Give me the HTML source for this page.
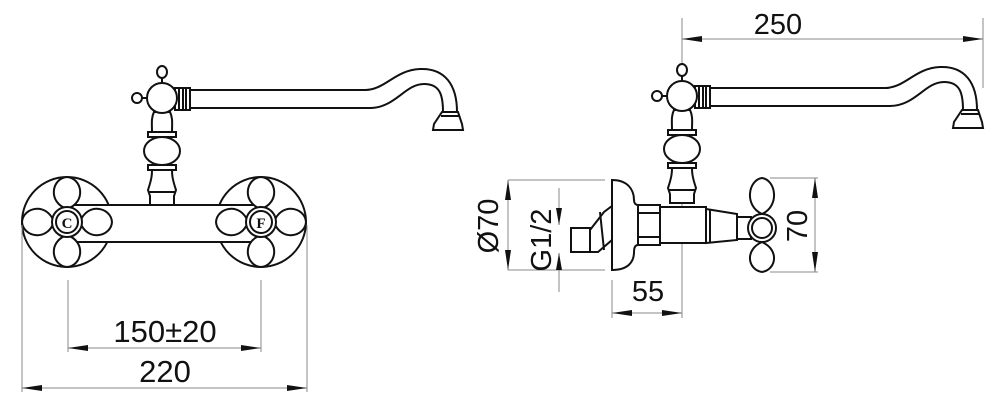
<!DOCTYPE html>
<html><head><meta charset="utf-8"><style>
html,body{margin:0;padding:0;background:#fff;}
svg{display:block}
text{font-family:"Liberation Sans",Arial,sans-serif;fill:#111}
</style></head><body>
<svg width="1000" height="419" viewBox="0 0 1000 419" xmlns="http://www.w3.org/2000/svg">
<defs>
<g id="top" fill="#fff" stroke="#111" stroke-width="2">
  <path d="M190,90 L365,90 C385,90 395,70 420,69 C445,68 457,85 457,112 L443,112 C443,95 440,84 424,84 C405,84 395,108 370,108 L190,108 Z"/>
  <path d="M442,112 L458,112 L462,124 L463,130 L433,130 L434,124 Z"/>
  <line x1="441" y1="116" x2="459" y2="116"/>
  <rect x="175" y="88" width="15" height="22"/>
  <line x1="179" y1="88" x2="179" y2="110"/><line x1="183" y1="88" x2="183" y2="110"/><line x1="186" y1="88" x2="186" y2="110"/>
  <line x1="162" y1="77" x2="162" y2="85"/>
  <ellipse cx="162" cy="72" rx="5" ry="6"/>
  <line x1="141" y1="98" x2="149" y2="98"/>
  <ellipse cx="137" cy="98" rx="5" ry="5"/>
  <path d="M150,205 L150,196 L148,190 C152,178 152,174 152,170 L172,170 C172,174 172,178 176,190 L174,196 L174,205 Z"/>
  <line x1="148" y1="192" x2="176" y2="192"/>
  <rect x="148" y="165" width="28" height="5"/>
  <ellipse cx="162" cy="151" rx="18" ry="14"/>
  <rect x="148" y="132" width="28" height="5"/>
  <path d="M152,132 C152,124 151,118 154,112 L170,112 C173,118 172,124 172,132 Z"/>
  <circle cx="162" cy="98" r="15"/>
</g>
<g id="cross" fill="#fff" stroke="#111" stroke-width="2">
  <path d="M0,-13 C-20,-20 -15,-44 0,-45 C15,-44 20,-20 0,-13Z"/>
  <path d="M0,13 C-20,20 -15,44 0,45 C15,44 20,20 0,13Z"/>
  <path d="M-13,0 C-20,-20 -44,-15 -45,0 C-44,15 -20,20 -13,0Z"/>
  <path d="M13,0 C20,-20 44,-15 45,0 C44,15 20,20 13,0Z"/>
  <circle r="15"/><circle r="11"/>
</g>
</defs>
<circle cx="67" cy="222" r="45" fill="#fff" stroke="#111" stroke-width="2"/>
<circle cx="261" cy="222" r="45" fill="#fff" stroke="#111" stroke-width="2"/>
<rect x="70" y="205" width="190" height="37" fill="#fff" stroke="#111" stroke-width="2"/>
<use href="#top"/>
<use href="#cross" x="67" y="222"/>
<use href="#cross" x="261" y="222"/>
<text x="67" y="228" font-size="15" font-weight="bold" text-anchor="middle" style="font-family:'Liberation Serif',serif">C</text>
<text x="261" y="228" font-size="15" font-weight="bold" text-anchor="middle" style="font-family:'Liberation Serif',serif">F</text>
<g stroke="#888" stroke-width="1">
<line x1="22" y1="225" x2="22" y2="392"/><line x1="307" y1="225" x2="307" y2="392"/>
<line x1="68" y1="280" x2="68" y2="352"/><line x1="261" y1="280" x2="261" y2="352"/>
<line x1="68" y1="348" x2="261" y2="348"/><line x1="22" y1="388" x2="307" y2="388"/>
</g>
<g fill="#111">
<path d="M68,348 L88,345 L88,351Z"/><path d="M261,348 L241,345 L241,351Z"/>
<path d="M22,388 L42,385 L42,391Z"/><path d="M307,388 L287,385 L287,391Z"/>
</g>
<text x="165" y="342" font-size="31" text-anchor="middle">150±20</text>
<text x="165" y="382" font-size="31" text-anchor="middle">220</text>

<g stroke="#888" stroke-width="1">
<line x1="682" y1="18" x2="682" y2="318"/><line x1="983" y1="18" x2="983" y2="88"/>
<line x1="682" y1="39" x2="983" y2="39"/>
<line x1="508" y1="180" x2="605" y2="180"/><line x1="508" y1="270" x2="605" y2="270"/>
<line x1="508" y1="180" x2="508" y2="270"/>
<line x1="559" y1="188" x2="559" y2="225"/><line x1="559" y1="253" x2="559" y2="292"/>
<line x1="612" y1="280" x2="612" y2="318"/>
<line x1="612" y1="313" x2="682" y2="313"/>
<line x1="770" y1="178" x2="818" y2="178"/><line x1="770" y1="272" x2="818" y2="272"/>
<line x1="815" y1="178" x2="815" y2="272"/>
</g>
<g fill="#111">
<path d="M682,39 L702,36 L702,42Z"/><path d="M983,39 L963,36 L963,42Z"/>
<path d="M508,180 L505,200 L511,200Z"/><path d="M508,270 L505,250 L511,250Z"/>
<path d="M559,225 L556,208 L562,208Z"/><path d="M559,253 L556,270 L562,270Z"/>
<path d="M612,313 L632,310 L632,316Z"/><path d="M682,313 L662,310 L662,316Z"/>
<path d="M815,178 L812,198 L818,198Z"/><path d="M815,272 L812,252 L818,252Z"/>
</g>
<text x="778" y="34" font-size="29" text-anchor="middle">250</text>
<text x="648" y="301" font-size="29" text-anchor="middle">55</text>
<text transform="translate(498,226) rotate(-90)" font-size="29" text-anchor="middle">Ø70</text>
<text transform="translate(551,240) rotate(-90)" font-size="29" text-anchor="middle">G1/2</text>
<text transform="translate(807,226) rotate(-90)" font-size="29" text-anchor="middle">70</text>

<g transform="translate(520,-2)"><use href="#top"/></g>
<g fill="#fff" stroke="#111" stroke-width="2">
  <rect x="660" y="207" width="46" height="36"/>
  <path d="M706,209 L737,214 L737,240 L706,243Z"/>
  <line x1="710" y1="209" x2="710" y2="243"/>
  <rect x="737" y="217" width="14" height="22"/>
  <path d="M762,214 C744,206 748,180 762,178 C776,180 780,206 762,214Z"/>
  <path d="M762,242 C744,250 748,270 762,272 C776,270 780,250 762,242Z"/>
  <circle cx="762" cy="228" r="14"/><circle cx="762" cy="228" r="10"/>
  <rect x="638" y="205" width="22" height="40"/>
  <line x1="638" y1="213" x2="660" y2="213"/><line x1="638" y1="237" x2="660" y2="237"/>
  <path d="M590,230 L604,212 L612,206 L612,240 L598,252 L590,252Z"/>
  <line x1="600" y1="212" x2="604" y2="250"/>
  <rect x="571" y="228" width="19" height="24"/>
  <path d="M612,180 C628,180 634,190 634,200 C634,205 638,205 638,205 L638,245 C634,245 634,250 634,252 C634,262 628,270 612,270 Z"/>
</g>
</svg>
</body></html>
